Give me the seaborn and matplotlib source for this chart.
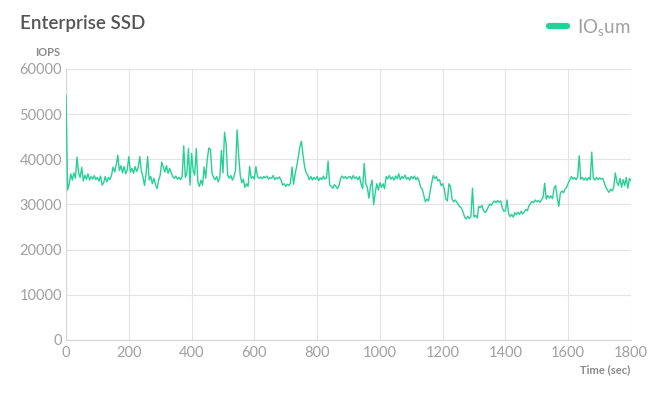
import numpy as np
import pandas as pd
import matplotlib
matplotlib.use("Agg")
import matplotlib.pyplot as plt
import seaborn as sns
from matplotlib.lines import Line2D

time_sec = list(range(0, 1805, 5))
iops = [
    # 0-95
    54200, 33200, 34500, 36800, 35400, 37000, 35800, 40500, 37000, 36000,
    38200, 35200, 36500, 35600, 36800, 35400, 36200, 35600, 36400, 35500,
    # 100-195
    36000, 35200, 36300, 34300, 34800, 36200, 35000, 36000, 35500, 36500,
    38300, 37200, 38800, 40900, 37500, 38600, 37000, 38400, 36800, 37600,
    # 200-295
    40600, 37200, 38000, 36900, 38400, 37300, 38200, 40600, 37400, 36200,
    34200, 36800, 40600, 35400, 36200, 34600, 35800, 34400, 33500, 35300,
    # 300-395
    36500, 39400, 38300, 37200, 38600, 36900, 38000, 37000, 36200, 35800,
    36300, 35600, 36000, 35500, 36200, 43000, 36000, 37000, 42400, 34300,
    # 400-495
    41300, 37600, 36500, 42400, 35000, 34000, 35400, 34300, 38300, 35800,
    40000, 42500, 42200, 37000, 36000, 35500, 36200, 35000, 36000, 42000,
    # 500-595
    37000, 46000, 43500, 36500, 35800, 36400, 35400, 36200, 37600, 46500,
    41000, 36500, 34800, 35600, 33800, 34600, 34000, 38400, 35800, 36200,
    # 600-695
    35600, 38400, 36200, 35800, 36100, 35700, 36200, 35900, 36300, 35600,
    36000, 35800, 36400, 35500, 36000, 35700, 36100, 35400, 34300, 34600,
    # 700-795
    34000, 34500, 34200, 34700, 38300, 34500, 36800, 38500, 40500, 42800,
    44000, 41000, 38400, 37000, 36500, 35500, 36200, 35400, 36000, 35600,
    # 800-895
    36200, 35300, 35900, 35500, 36300, 35600, 35900, 39600, 34300, 34000,
    33600, 34400, 34000, 33500, 34300, 35800, 36300, 35800, 36200, 35700,
    # 900-995
    36100, 36200, 35600, 36400, 35800, 36100, 35500, 36200, 34500, 33500,
    39100, 34600, 33800, 31400, 34000, 35400, 30000, 32500, 34600, 33200,
    # 1000-1095
    34800, 33800, 34600, 33500, 36200, 35700, 36400, 35600, 36100, 35400,
    36300, 35700, 36800, 35500, 36200, 35800, 36500, 35600, 36000, 35400,
    # 1100-1195
    36200, 35700, 36300, 35500, 36000, 35200, 33800, 33400, 32000, 30600,
    31200, 30800, 32800, 34800, 36400, 35700, 36200, 35200, 35500, 34200,
    # 1200-1295
    34600, 33500, 31200, 30800, 34600, 34000, 31200, 30600, 31000, 30500,
    30000, 29500, 29200, 28300, 27200, 26800, 27400, 26900, 27300, 33600,
    # 1300-1395
    27200, 27600, 27000, 29600, 29300, 29800, 28700, 28200, 28600, 29400,
    30100, 29800, 30400, 30800, 30400, 30900, 30500, 30800, 29200, 28500,
    # 1400-1495
    28600, 31000, 28000, 27300, 27800, 27200, 28200, 27700, 28300, 27800,
    28500, 27900, 28400, 28900, 28600, 29800, 30200, 30700, 30400, 31000,
    # 1500-1595
    30600, 30900, 30500, 31100, 31600, 34700, 31200, 32000, 31400, 31900,
    31300, 33600, 34200, 31500, 29600, 32500, 33000, 32600, 33400, 33800,
    # 1600-1695
    34700, 35400, 36200, 35600, 36000, 35500, 36100, 40800, 35600, 36000,
    35400, 35900, 35300, 36000, 35500, 41600, 35800, 35400, 36000, 35500,
    # 1700-1800
    35900, 35600, 35800, 34800, 33800, 33200, 32700, 33400, 33000, 33800,
    37000, 35000, 34200, 35800, 33800, 35500, 34200, 36000, 33600, 35800,
    35200,
]
x_ticks = [0, 200, 400, 600, 800, 1000, 1200, 1400, 1600, 1800]
y_ticks = [0, 10000, 20000, 30000, 40000, 50000, 60000]

line_color = "#27d096"


def main():
    df = pd.DataFrame({"time": time_sec, "iops": iops})

    sns.set_theme(style="white")
    plt.rcParams["font.family"] = ["Lato", "DejaVu Sans"]
    plt.rcParams["mathtext.fontset"] = "custom"
    plt.rcParams["mathtext.rm"] = "Lato"
    plt.rcParams["mathtext.it"] = "Lato"

    fig = plt.figure(figsize=(6.57, 3.97), dpi=100)
    ax = fig.add_axes([0.1005, 0.1436, 0.8599, 0.6826])

    sns.lineplot(data=df, x="time", y="iops", ax=ax, color=line_color,
                 linewidth=1.0, legend=False, zorder=3)

    ax.set_xlim(0, 1800)
    ax.set_ylim(0, 60000)
    ax.set_xticks(x_ticks)
    ax.set_yticks(y_ticks)
    ax.set_xticklabels([str(v) for v in x_ticks])
    ax.set_yticklabels([str(v) for v in y_ticks])
    ax.tick_params(axis="both", length=0, labelsize=10.5, labelcolor="#a0a0a0")
    ax.tick_params(axis="x", pad=4)
    ax.tick_params(axis="y", pad=3)

    ax.grid(True, color="#e3e3e3", linewidth=0.8)
    for side in ["top", "right"]:
        ax.spines[side].set_visible(False)
    for side in ["left", "bottom"]:
        ax.spines[side].set_color("#d9d9d9")
        ax.spines[side].set_linewidth(0.9)
        ax.spines[side].set_zorder(1)
    ax.set_xlabel("")
    ax.set_ylabel("")

    fig.text(20 / 657, 1 - 24 / 397, "Enterprise SSD", fontsize=13.5,
             color="#555555", ha="left", va="center", fontweight="semibold")
    fig.text(48 / 657, 1 - 53 / 397, "IOPS", fontsize=8, color="#8a8a8a",
             ha="center", va="center", fontweight="bold")
    fig.text(630 / 657, 1 - 370 / 397, "Time (sec)", fontsize=8,
             color="#8a8a8a", ha="right", va="center", fontweight="bold")

    handle = Line2D([], [], color=line_color, linewidth=4.5)
    leg = fig.legend([handle], ["IO$_{s}$um"], loc="center right",
                     bbox_to_anchor=(647 / 657, 1 - 27 / 397), frameon=False,
                     handlelength=1.0, handletextpad=0.5, fontsize=13.5)
    for t in leg.get_texts():
        t.set_color("#a0a0a0")

    fig.savefig("out.png", dpi=100)


if __name__ == "__main__":
    main()
